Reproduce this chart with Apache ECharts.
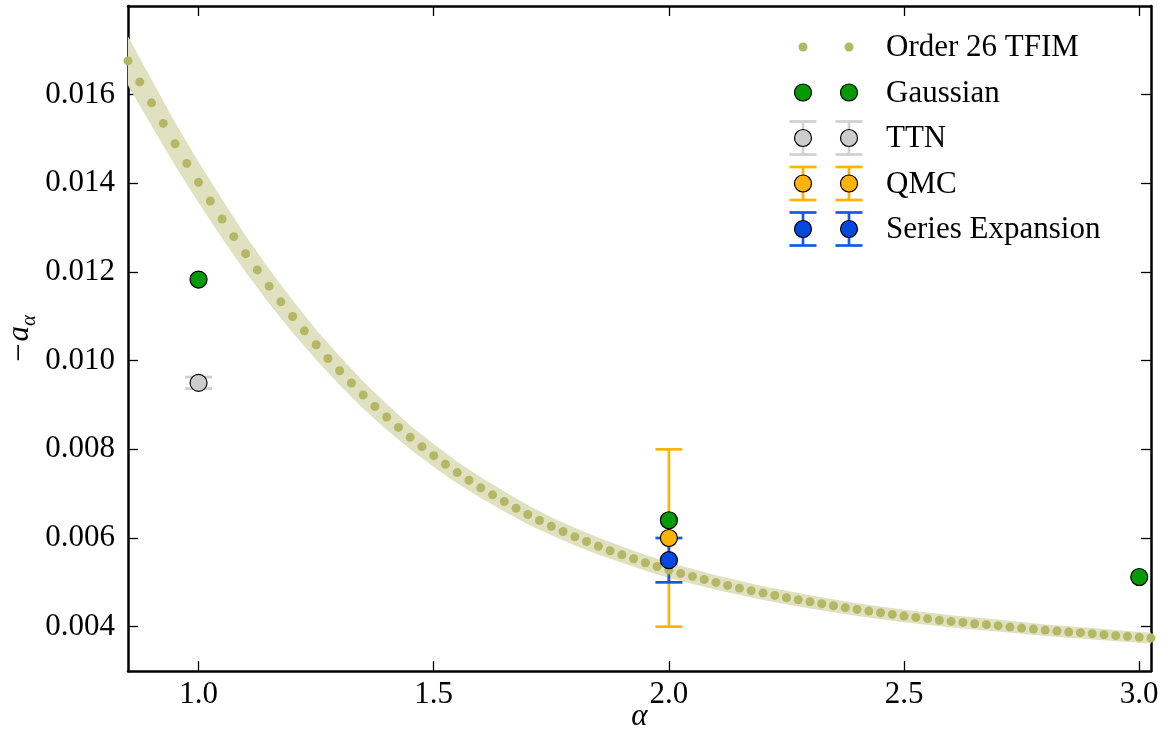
<!DOCTYPE html>
<html>
<head>
<meta charset="utf-8">
<script src="https://cdn.jsdelivr.net/npm/echarts@6/dist/echarts.min.js"></script>
<style>
  html, body { margin: 0; padding: 0; background: #ffffff; }
  #chart { width: 1171px; height: 740px; }
</style>
</head>
<body>
<div id="chart"></div>
<script>
// Order-26 TFIM series estimate of -a_alpha, sampled every 0.025 in alpha
const tfimAlpha = [0.85, 0.875, 0.9, 0.925, 0.95, 0.975, 1.0, 1.025, 1.05, 1.075, 1.1, 1.125, 1.15, 1.175, 1.2, 1.225, 1.25, 1.275, 1.3, 1.325, 1.35, 1.375, 1.4, 1.425, 1.45, 1.475, 1.5, 1.525, 1.55, 1.575, 1.6, 1.625, 1.65, 1.675, 1.7, 1.725, 1.75, 1.775, 1.8, 1.825, 1.85, 1.875, 1.9, 1.925, 1.95, 1.975, 2.0, 2.025, 2.05, 2.075, 2.1, 2.125, 2.15, 2.175, 2.2, 2.225, 2.25, 2.275, 2.3, 2.325, 2.35, 2.375, 2.4, 2.425, 2.45, 2.475, 2.5, 2.525, 2.55, 2.575, 2.6, 2.625, 2.65, 2.675, 2.7, 2.725, 2.75, 2.775, 2.8, 2.825, 2.85, 2.875, 2.9, 2.925, 2.95, 2.975, 3.0, 3.025];
const tfimValue = [0.016761, 0.016288, 0.015815, 0.015351, 0.014892, 0.014450, 0.014023, 0.013601, 0.013196, 0.012797, 0.012414, 0.012047, 0.011680, 0.011327, 0.010995, 0.010673, 0.010358, 0.010050, 0.009773, 0.009495, 0.009225, 0.008968, 0.008730, 0.008495, 0.008270, 0.008061, 0.007858, 0.007662, 0.007475, 0.007302, 0.007131, 0.006973, 0.006822, 0.006671, 0.006529, 0.006394, 0.006266, 0.006146, 0.006027, 0.005921, 0.005815, 0.005712, 0.005622, 0.005532, 0.005441, 0.005358, 0.005279, 0.005200, 0.005133, 0.005065, 0.004998, 0.004930, 0.004869, 0.004811, 0.004757, 0.004705, 0.004653, 0.004608, 0.004563, 0.004518, 0.004473, 0.004428, 0.004389, 0.004351, 0.004315, 0.004277, 0.004239, 0.004209, 0.004180, 0.004142, 0.004119, 0.004096, 0.004067, 0.004045, 0.004023, 0.003991, 0.003968, 0.003946, 0.003923, 0.003901, 0.003878, 0.003865, 0.003842, 0.003820, 0.003797, 0.003782, 0.003759, 0.003743];

// Uncertainty band around the TFIM estimate
const bandAlpha = [0.85, 0.9, 0.95, 1.0, 1.05, 1.1, 1.15, 1.2, 1.25, 1.3, 1.35, 1.4, 1.45, 1.5, 1.55, 1.6, 1.65, 1.7, 1.75, 1.8, 1.85, 1.9, 1.95, 2.0, 2.1, 2.2, 2.3, 2.4, 2.5, 2.6, 2.7, 2.8, 2.9, 3.0, 3.025];
const bandLow  = [0.01621, 0.01530, 0.01440, 0.01356, 0.01276, 0.01200, 0.01129, 0.01063, 0.01002, 0.00945, 0.00892, 0.00844, 0.00800, 0.00760, 0.00723, 0.00690, 0.00660, 0.00631, 0.00606, 0.00583, 0.00562, 0.00544, 0.00526, 0.00510, 0.00483, 0.00460, 0.00441, 0.00424, 0.00410, 0.00398, 0.00389, 0.00379, 0.00371, 0.00364, 0.00362];
const bandHigh = [0.01731, 0.01634, 0.01538, 0.01448, 0.01364, 0.01282, 0.01207, 0.01136, 0.01070, 0.01010, 0.00953, 0.00902, 0.00854, 0.00812, 0.00772, 0.00737, 0.00705, 0.00674, 0.00647, 0.00623, 0.00601, 0.00581, 0.00562, 0.00545, 0.00516, 0.00491, 0.00471, 0.00453, 0.00438, 0.00426, 0.00416, 0.00405, 0.00397, 0.00388, 0.00386];

// Other methods: [alpha, -a_alpha] and, where available, [alpha, -a_alpha, error]
const gaussianPts = [[1.0, 0.01183], [2.0, 0.0064], [3.0, 0.00512]];
const ttnPts = [[1.0, 0.0095, 0.00013]];
const qmcPts = [[2.0, 0.006, 0.002]];
const seriesExpPts = [[2.0, 0.0055, 0.0005]];

// Axis ticks
const xTicks = [1.0, 1.5, 2.0, 2.5, 3.0];
const yTicks = [0.004, 0.006, 0.008, 0.010, 0.012, 0.014, 0.016];

const legendNames = ['Order 26 TFIM', 'Gaussian', 'TTN', 'QMC', 'Series Expansion'];

const FONT = '"Liberation Serif", "DejaVu Serif", serif';
const C = {
  dot: '#b4b864',
  band: '#dfe1c1',
  gauss: '#049a04',
  ttnFill: '#cccccc',
  ttnBar: '#d0d0d0',
  qmc: '#ffb30a',
  seFill: '#0547df',
  seBar: '#1159e6'
};
const BAR_W = 2.7;

const chart = echarts.init(document.getElementById('chart'), null, { renderer: 'canvas' });

function errorBarSeries(data, color, capHalf) {
  return {
    type: 'custom',
    xAxisIndex: 0, yAxisIndex: 0,
    clip: true,
    data: data,
    encode: { x: 0, y: 1 },
    renderItem: function (params, api) {
      const x = api.value(0), y = api.value(1), e = api.value(2);
      const top = api.coord([x, y + e]);
      const bot = api.coord([x, y - e]);
      const st = { stroke: color, lineWidth: BAR_W, fill: null };
      return {
        type: 'group',
        children: [
          { type: 'line', shape: { x1: top[0], y1: top[1], x2: bot[0], y2: bot[1] }, style: st },
          { type: 'line', shape: { x1: top[0] - capHalf, y1: top[1], x2: top[0] + capHalf, y2: top[1] }, style: st },
          { type: 'line', shape: { x1: bot[0] - capHalf, y1: bot[1], x2: bot[0] + capHalf, y2: bot[1] }, style: st }
        ]
      };
    }
  };
}

function markerSeries(name, data, fill) {
  return {
    name: name,
    type: 'scatter',
    xAxisIndex: 0, yAxisIndex: 0,
    data: data.map(d => [d[0], d[1]]),
    symbol: 'circle',
    symbolSize: 17,
    itemStyle: { color: fill, borderColor: '#000000', borderWidth: 1.2, opacity: 1 },
    emphasis: { disabled: true }
  };
}

// Legend: two sample markers per entry, with error bars where the method has them
function legendGraphics() {
  const rowY = [47, 92.5, 138, 183.5, 229];
  const mx = [803, 849];
  const textX = 886;
  const items = [];
  const styles = [
    { fill: C.dot, r: 4.5, border: null, bar: null },
    { fill: C.gauss, r: 8.5, border: '#000', bar: null },
    { fill: C.ttnFill, r: 8.5, border: '#000', bar: C.ttnBar },
    { fill: C.qmc, r: 8.5, border: '#000', bar: C.qmc },
    { fill: C.seFill, r: 8.5, border: '#000', bar: C.seBar }
  ];
  legendNames.forEach((name, i) => {
    const s = styles[i];
    const y = rowY[i];
    mx.forEach(x => {
      if (s.bar) {
        const st = { stroke: s.bar, lineWidth: BAR_W };
        items.push({ type: 'line', shape: { x1: x, y1: y - 16.5, x2: x, y2: y + 16.5 }, style: st, z: 100 });
        items.push({ type: 'line', shape: { x1: x - 13.5, y1: y - 16.5, x2: x + 13.5, y2: y - 16.5 }, style: st, z: 100 });
        items.push({ type: 'line', shape: { x1: x - 13.5, y1: y + 16.5, x2: x + 13.5, y2: y + 16.5 }, style: st, z: 100 });
      }
      items.push({
        type: 'circle', shape: { cx: x, cy: y, r: s.r },
        style: s.border ? { fill: s.fill, stroke: s.border, lineWidth: 1.2 } : { fill: s.fill },
        z: 101
      });
    });
    items.push({
      type: 'text', x: textX, y: y + 1, z: 101,
      style: { text: name, font: '31px ' + FONT, fill: '#000', verticalAlign: 'middle' }
    });
  });
  return items;
}

const axisLineStyle = { color: '#000', width: 2.5 };
const tickStyle = { color: '#000', width: 1.3 };

const option = {
  animation: false,
  backgroundColor: '#ffffff',
  grid: { left: 128, top: 6, width: 1023, height: 665, containLabel: false, outerBoundsMode: 'none' },
  xAxis: [
    {
      type: 'value', min: 0.85, max: 3.025, position: 'bottom',
      axisLine: { show: true, onZero: false, lineStyle: axisLineStyle },
      axisTick: { show: true, inside: true, length: 10, lineStyle: tickStyle, customValues: xTicks },
      axisLabel: { customValues: xTicks, formatter: v => v.toFixed(1), fontFamily: FONT, fontSize: 31, color: '#000', margin: 8 },
      splitLine: { show: false },
      name: 'α', nameLocation: 'middle', nameGap: 30, nameMoveOverlap: false,
      nameTextStyle: { fontFamily: FONT, fontStyle: 'italic', fontSize: 31, color: '#000' }
    },
    {
      type: 'value', min: 0.85, max: 3.025, position: 'top',
      axisLine: { show: true, onZero: false, lineStyle: axisLineStyle },
      axisTick: { show: true, inside: true, length: 10, lineStyle: tickStyle, customValues: xTicks },
      axisLabel: { show: false },
      splitLine: { show: false }
    }
  ],
  yAxis: [
    {
      type: 'value', min: 0.003, max: 0.018, position: 'left',
      axisLine: { show: true, onZero: false, lineStyle: axisLineStyle },
      axisTick: { show: true, inside: true, length: 10, lineStyle: tickStyle, customValues: yTicks },
      axisLabel: { customValues: yTicks, formatter: v => v.toFixed(3), fontFamily: FONT, fontSize: 31, color: '#000', margin: 13 },
      splitLine: { show: false },
      name: '{m|−}{a|a}{s|α}', nameLocation: 'middle', nameGap: 88, nameRotate: 90, nameMoveOverlap: false,
      nameTextStyle: {
        rich: {
          m: { fontFamily: FONT, fontSize: 33, color: '#000', lineHeight: 40, verticalAlign: 'middle', padding: [0, 2, 0, 0] },
          a: { fontFamily: FONT, fontStyle: 'italic', fontSize: 31, color: '#000', lineHeight: 40, verticalAlign: 'middle' },
          s: { fontFamily: FONT, fontStyle: 'italic', fontSize: 21, color: '#000', lineHeight: 40, verticalAlign: 'bottom' }
        }
      }
    },
    {
      type: 'value', min: 0.003, max: 0.018, position: 'right',
      axisLine: { show: true, onZero: false, lineStyle: axisLineStyle },
      axisTick: { show: true, inside: true, length: 10, lineStyle: tickStyle, customValues: yTicks },
      axisLabel: { show: false },
      splitLine: { show: false }
    }
  ],
  series: [
    {
      name: 'band',
      type: 'custom',
      xAxisIndex: 0, yAxisIndex: 0,
      clip: true,
      silent: true,
      data: [[bandAlpha[0], bandHigh[0]]],
      renderItem: function (params, api) {
        const pts = [];
        for (let i = 0; i < bandAlpha.length; i++) pts.push(api.coord([bandAlpha[i], bandHigh[i]]));
        for (let i = bandAlpha.length - 1; i >= 0; i--) pts.push(api.coord([bandAlpha[i], bandLow[i]]));
        return { type: 'polygon', shape: { points: pts }, style: { fill: C.band } };
      }
    },
    {
      name: 'Order 26 TFIM',
      type: 'scatter',
      xAxisIndex: 0, yAxisIndex: 0,
      data: tfimAlpha.map((a, i) => [a, tfimValue[i]]),
      symbol: 'circle', symbolSize: 9,
      itemStyle: { color: C.dot, opacity: 1 },
      emphasis: { disabled: true }
    },
    errorBarSeries(ttnPts, C.ttnBar, 13.5),
    markerSeries('TTN', ttnPts, C.ttnFill),
    errorBarSeries(qmcPts, C.qmc, 13.5),
    markerSeries('QMC', qmcPts, C.qmc),
    errorBarSeries(seriesExpPts, C.seBar, 13.5),
    markerSeries('Series Expansion', seriesExpPts, C.seFill),
    markerSeries('Gaussian', gaussianPts, C.gauss)
  ],
  graphic: legendGraphics()
};

chart.setOption(option);
</script>
</body>
</html>
